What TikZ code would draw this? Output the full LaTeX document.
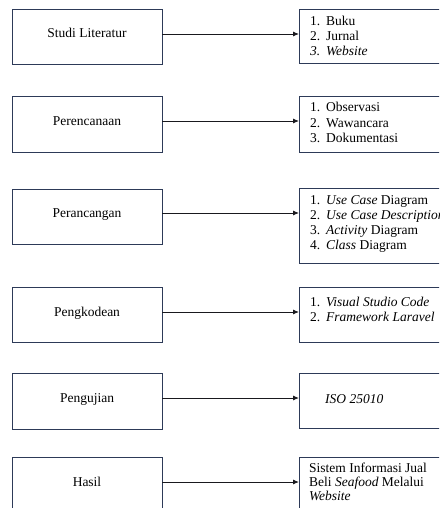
\documentclass[tikz,border=0pt]{standalone}
\usepackage{fontspec}
\setmainfont{Liberation Serif}
\usetikzlibrary{arrows.meta}
\definecolor{boxline}{RGB}{45,58,88}
\definecolor{arrline}{RGB}{25,25,30}
\newcommand{\itm}[1]{\makebox[16pt][l]{#1}}
\begin{document}
\begin{tikzpicture}[x=1pt,y=-1pt,
  lbox/.style={draw=boxline,line width=1pt,inner sep=0pt,outer sep=0pt,minimum width=150pt},
  rbox/.style={draw=boxline,line width=1pt,inner sep=0pt,outer sep=0pt,minimum width=181pt},
  txt/.style={inner sep=0pt,anchor=base,font=\fontsize{13.5}{15}\selectfont},
  ltxt/.style={inner sep=0pt,anchor=base west,font=\fontsize{13.5}{15}\selectfont},
  conn/.style={draw=arrline,line width=0.9pt,-{Latex[length=6pt,width=5pt]}}]
\useasboundingbox (0,0) rectangle (439,508);
\clip (0,0) rectangle (439,508);
% left boxes
\node[lbox,minimum height=55pt] (L1) at (87,37.5) {};
\node[lbox,minimum height=55pt] (L2) at (87,124.5) {};
\node[lbox,minimum height=55pt] (L3) at (87,216.5) {};
\node[lbox,minimum height=55pt] (L4) at (87,314.5) {};
\node[lbox,minimum height=56pt] (L5) at (87,401) {};
\node[lbox,minimum height=70pt] (L6) at (87,492) {};
% left texts
\node[txt] (t1) at (87,38) {Studi Literatur};
\node[txt] (t2) at (87,125) {Perencanaan};
\node[txt] (t3) at (87,217) {Perancangan};
\node[txt] (t4) at (87,316) {Pengkodean};
\node[txt] (t5) at (87,402) {Pengujian};
\node[txt] (t6) at (87,486) {Hasil};
% right boxes
\node[rbox,minimum height=54pt] (R1) at (389.5,37) {};
\node[rbox,minimum height=55pt] (R2) at (389.5,124.5) {};
\node[rbox,minimum height=75pt] (R3) at (389.5,225.5) {};
\node[rbox,minimum height=55pt] (R4) at (389.5,314.5) {};
\node[rbox,minimum height=55pt] (R5) at (389.5,400.5) {};
\node[rbox,minimum height=70pt] (R6) at (389.5,492) {};
% right texts
\node[ltxt] (r11) at (310,26) {\itm{1.}Buku};
\node[ltxt] (r12) at (310,41) {\itm{2.}Jurnal};
\node[ltxt] (r13) at (310,56) {\itshape\itm{3.}Website};
\node[ltxt] (r21) at (310,112) {\itm{1.}Observasi};
\node[ltxt] (r22) at (310,127) {\itm{2.}Wawancara};
\node[ltxt] (r23) at (310,142) {\itm{3.}Dokumentasi};
\node[ltxt] (r31) at (310,204) {\itm{1.}\textit{Use Case} Diagram};
\node[ltxt] (r32) at (310,219) {\itm{2.}\textit{Use Case Description}};
\node[ltxt] (r33) at (310,234) {\itm{3.}\textit{Activity} Diagram};
\node[ltxt] (r34) at (310,249) {\itm{4.}\textit{Class} Diagram};
\node[ltxt] (r41) at (310,306) {\itm{1.}\textit{Visual Studio Code}};
\node[ltxt] (r42) at (310,321) {\itm{2.}\textit{Framework Laravel}};
\node[ltxt] (r51) at (325,403) {\textit{ISO 25010}};
\node[ltxt] (r61) at (309,472) {Sistem Informasi Jual};
\node[ltxt] (r62) at (309,486) {Beli \textit{Seafood} Melalui};
\node[ltxt] (r63) at (309,500) {\textit{Website}};
% connectors
\coordinate (a1) at (0,34);
\coordinate (a2) at (0,121);
\coordinate (a3) at (0,213);
\coordinate (a4) at (0,312);
\coordinate (a5) at (0,398);
\coordinate (a6) at (0,482);
\draw[conn] (L1.east |- a1) -- (R1.west |- a1);
\draw[conn] (L2.east |- a2) -- (R2.west |- a2);
\draw[conn] (L3.east |- a3) -- (R3.west |- a3);
\draw[conn] (L4.east |- a4) -- (R4.west |- a4);
\draw[conn] (L5.east |- a5) -- (R5.west |- a5);
\draw[conn] (L6.east |- a6) -- (R6.west |- a6);
\end{tikzpicture}
\end{document}
